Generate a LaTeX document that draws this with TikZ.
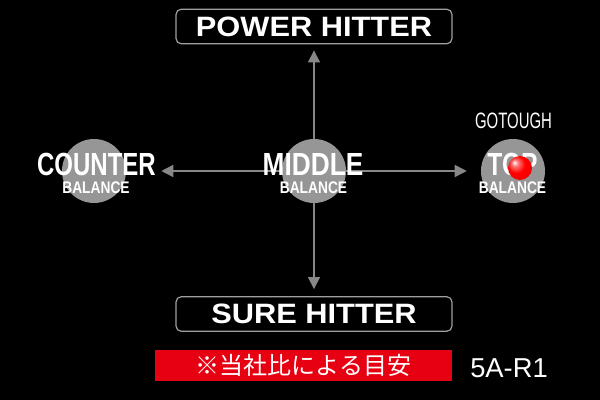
\documentclass[tikz,border=0pt]{standalone}
\usepackage{fontspec}
\usepackage{graphicx}
\usepackage{xcolor}
\setmainfont{Liberation Sans}
\newfontfamily\jpfont{Noto Sans CJK JP}
\usetikzlibrary{arrows.meta,positioning,shapes}

\definecolor{padgray}{RGB}{150,150,150}
\definecolor{axisgray}{RGB}{135,135,135}
\definecolor{notered}{RGB}{230,0,18}
\newcommand{\narrow}[2]{\scalebox{#1}[1]{#2}}
\pgfdeclareradialshading{glossball}{\pgfpoint{-12bp}{12bp}}{%
    color(0bp)=(white); color(7bp)=(red!55!white); color(18bp)=(red);
    color(40bp)=(red!92!black); color(50bp)=(red!80!black)}

\begin{document}
\begin{tikzpicture}[x=0.75pt,y=-0.75pt,
    hitterbox/.style={draw=gray!75, line width=0.9pt, rounded corners=4pt, fill=black,
        minimum width=207pt, minimum height=26pt, inner sep=0pt, text=white,
        font=\bfseries\fontsize{21}{21}\selectfont},
    pad/.style={circle, fill=padgray, minimum size=48pt, inner sep=0pt},
    axisline/.style={draw=axisgray, line width=1.1pt, -{Triangle[length=9pt,width=9pt]}},
    bigword/.style={anchor=base, inner sep=0pt, text=white, font=\bfseries\fontsize{24}{24}\selectfont},
    smallword/.style={anchor=base, inner sep=0pt, text=white, font=\bfseries\fontsize{12.6}{13}\selectfont}]
    \fill[black] (0,0) rectangle (600,400);
    \useasboundingbox (0,0) rectangle (600,400);

    % boxes top and bottom
    \node[hitterbox] (power) at (314,26.5) {\narrow{1.1}{POWER HITTER}};
    \node[hitterbox] (sure) at (314,314) {\narrow{1.1}{SURE HITTER}};

    % balance pads
    \node[pad] (counter) at (94,171) {};
    \node[pad] (middle) at (314,171) {};
    \node[pad] (top) at (513,171) {};

    % axes
    \draw[axisline, shorten >=4.5pt] (middle) -- (power);
    \draw[axisline, shorten >=5.25pt] (middle) -- (sure);
    \draw[axisline, shorten >=26.25pt] (middle) -- (counter);
    \draw[axisline, shorten >=10.5pt] (middle) -- (top);

    % pad labels
    \node[bigword] (counterword) at (96.5,175) {\narrow{0.75}{COUNTER}};
    \node[smallword] (counterbal) at (96,193) {\narrow{0.82}{BALANCE}};
    \node[bigword] (middleword) at (313,175) {\narrow{0.82}{MIDDLE}};
    \node[smallword] (middlebal) at (313.5,193) {\narrow{0.82}{BALANCE}};
    \node[bigword] (topword) at (512.5,175) {\narrow{0.77}{TOP}};
    \node[smallword] (topbal) at (512.5,193) {\narrow{0.82}{BALANCE}};
    \node[anchor=base, inner sep=0pt, text=white, font=\fontsize{16.7}{17}\selectfont] (brand) at (513.5,128) {\narrow{0.67}{GOTOUGH}};

    % red ball
    \node[circle, shade, shading=glossball, minimum size=18pt, inner sep=0pt] (ball) at (520,168) {};

    % footer
    \node[fill=notered, minimum width=222.75pt, minimum height=23.25pt, inner sep=0pt, text=white,
        font=\jpfont\fontsize{18}{18}\selectfont] (note) at (303.5,365.5) {※当社比による目安};
    \node[anchor=base west, inner sep=0pt, text=white, font=\fontsize{20.5}{20.5}\selectfont] (model) at (470,377) {5A-R1};
\end{tikzpicture}
\end{document}
